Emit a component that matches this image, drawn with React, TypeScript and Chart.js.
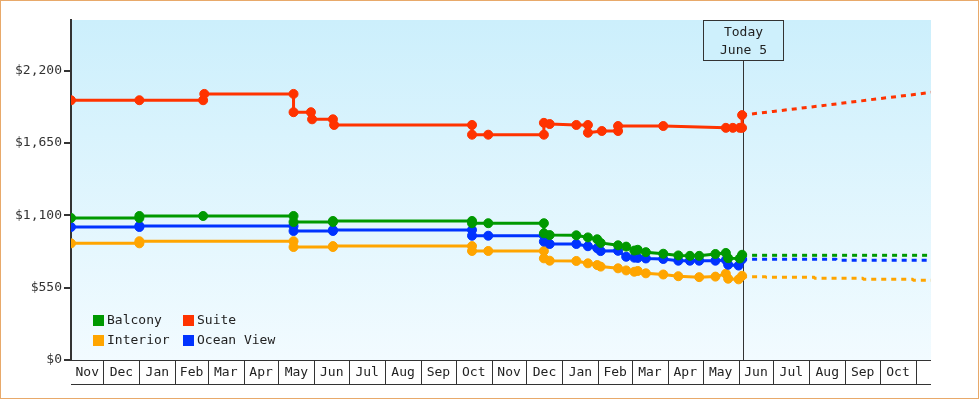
import React, { useEffect, useRef } from 'react';
import { Chart, registerables } from 'chart.js';

Chart.register(...registerables);

const FONT = '"DejaVu Sans Mono", "Liberation Mono", monospace';

// ---- axis / labels ----
const yTicks = [0, 550, 1100, 1650, 2200];
const yMax = 2585;
const startDate = '2022-11-03';
const endDate = '2024-11-14';
const todayDate = '2024-06-05';
const todayLabel = ['Today', 'June 5'];
const monthNames = ['Jan', 'Feb', 'Mar', 'Apr', 'May', 'Jun', 'Jul', 'Aug', 'Sep', 'Oct', 'Nov', 'Dec'];

const seriesNames = ['Balcony', 'Suite', 'Interior', 'Ocean View'];
const seriesColors = ['#009900', '#FF3300', '#FFA500', '#0033FF'];

// ---- price history [date, price] ----
const balcony: [string, number][] = [
  ['2022-11-03', 1080], ['2023-01-01', 1080], ['2023-01-01', 1095], ['2023-02-25', 1095],
  ['2023-05-14', 1095], ['2023-05-14', 1049], ['2023-06-17', 1049], ['2023-06-17', 1057],
  ['2023-10-15', 1057], ['2023-10-15', 1040], ['2023-10-29', 1040], ['2023-12-16', 1040],
  ['2023-12-16', 963], ['2023-12-21', 950], ['2024-01-13', 948], ['2024-01-23', 932],
  ['2024-01-31', 918], ['2024-02-03', 890], ['2024-02-18', 872], ['2024-02-25', 862],
  ['2024-03-03', 832], ['2024-03-06', 838], ['2024-03-13', 820], ['2024-03-28', 808],
  ['2024-04-10', 795], ['2024-04-20', 792], ['2024-04-28', 792], ['2024-05-12', 806],
  ['2024-05-21', 814], ['2024-05-23', 774], ['2024-06-02', 772], ['2024-06-04', 800],
];

const suite: [string, number][] = [
  ['2022-11-03', 1975], ['2023-01-01', 1975], ['2023-02-25', 1975], ['2023-02-26', 2023],
  ['2023-05-14', 2023], ['2023-05-14', 1884], ['2023-05-29', 1884], ['2023-05-30', 1830],
  ['2023-06-17', 1830], ['2023-06-18', 1787], ['2023-10-15', 1787], ['2023-10-15', 1713],
  ['2023-10-29', 1713], ['2023-12-16', 1713], ['2023-12-16', 1803], ['2023-12-21', 1794],
  ['2024-01-13', 1787], ['2024-01-23', 1787], ['2024-01-23', 1728], ['2024-02-04', 1741],
  ['2024-02-18', 1741], ['2024-02-18', 1779], ['2024-03-28', 1779], ['2024-05-21', 1765],
  ['2024-05-27', 1765], ['2024-06-02', 1765], ['2024-06-04', 1765], ['2024-06-04', 1862],
];

const interior: [string, number][] = [
  ['2022-11-03', 887], ['2023-01-01', 887], ['2023-01-01', 903], ['2023-05-14', 903],
  ['2023-05-14', 859], ['2023-06-17', 859], ['2023-06-17', 866], ['2023-10-15', 866],
  ['2023-10-15', 829], ['2023-10-29', 829], ['2023-12-16', 829], ['2023-12-16', 773],
  ['2023-12-21', 755], ['2024-01-13', 753], ['2024-01-23', 735], ['2024-01-31', 722],
  ['2024-02-03', 710], ['2024-02-18', 697], ['2024-02-25', 681], ['2024-03-03', 671],
  ['2024-03-06', 677], ['2024-03-13', 659], ['2024-03-28', 650], ['2024-04-10', 637],
  ['2024-04-28', 630], ['2024-05-12', 634], ['2024-05-21', 656], ['2024-05-23', 618],
  ['2024-06-01', 613], ['2024-06-04', 640],
];

const oceanView: [string, number][] = [
  ['2022-11-03', 1011], ['2023-01-01', 1011], ['2023-01-01', 1019], ['2023-05-14', 1019],
  ['2023-05-14', 981], ['2023-06-17', 981], ['2023-06-17', 989], ['2023-10-15', 989],
  ['2023-10-15', 945], ['2023-10-29', 945], ['2023-12-16', 945], ['2023-12-16', 900],
  ['2023-12-21', 882], ['2024-01-13', 882], ['2024-01-23', 865], ['2024-01-31', 850],
  ['2024-02-03', 828], ['2024-02-18', 830], ['2024-02-25', 785], ['2024-03-03', 778],
  ['2024-03-06', 776], ['2024-03-13', 772], ['2024-03-28', 768], ['2024-04-10', 755],
  ['2024-04-20', 755], ['2024-04-28', 755], ['2024-05-12', 755], ['2024-05-21', 760],
  ['2024-05-23', 724], ['2024-06-01', 718], ['2024-06-04', 766],
];

// ---- forecasts (dotted) ----
const balconyForecast: [string, number][] = [['2024-06-04', 796], ['2024-11-14', 796]];
const suiteForecast: [string, number][] = [
  ['2024-06-04', 1862], ['2024-07-01', 1890], ['2024-08-01', 1922], ['2024-09-01', 1955],
  ['2024-10-01', 1988], ['2024-11-01', 2020], ['2024-11-14', 2035],
];
const interiorForecast: [string, number][] = [
  ['2024-06-04', 633], ['2024-06-24', 633], ['2024-06-25', 629], ['2024-08-05', 629],
  ['2024-08-06', 621], ['2024-09-16', 621], ['2024-09-17', 614], ['2024-10-29', 614],
  ['2024-10-30', 606], ['2024-11-14', 606],
];
const oceanViewForecast: [string, number][] = [
  ['2024-06-04', 766], ['2024-08-24', 766], ['2024-08-25', 758], ['2024-11-14', 758],
];

const dayNum = (s: string) => {
  const [y, m, d] = s.split('-').map(Number);
  return Date.UTC(y, m - 1, d) / 86400000;
};
const toPts = (arr: [string, number][]) => arr.map(([d, v]) => ({ x: dayNum(d), y: v }));

const App = () => {
  const ref = useRef<HTMLCanvasElement>(null);

  useEffect(() => {
    if (!ref.current) return;
    const history = [balcony, suite, interior, oceanView];
    const forecasts = [balconyForecast, suiteForecast, interiorForecast, oceanViewForecast];
    const drawOrder = [0, 3, 2, 1];

    const datasets: any[] = [];
    drawOrder.forEach((i) => {
      datasets.push({
        label: seriesNames[i],
        data: toPts(history[i]),
        borderColor: seriesColors[i],
        backgroundColor: seriesColors[i],
        pointBackgroundColor: seriesColors[i],
        pointBorderColor: seriesColors[i],
        borderWidth: 3,
        pointRadius: 4.5,
        pointHoverRadius: 4.5,
        pointBorderWidth: 1,
        tension: 0,
        fill: false,
      });
    });
    drawOrder.forEach((i) => {
      datasets.push({
        label: seriesNames[i] + ' forecast',
        data: toPts(forecasts[i]),
        borderColor: seriesColors[i],
        borderWidth: 3,
        borderDash: [5, 5],
        borderCapStyle: 'butt',
        pointRadius: 0,
        pointHoverRadius: 0,
        tension: 0,
        fill: false,
      });
    });

    const decor = {
      id: 'decor',
      beforeDraw(chart: any) {
        const { ctx, chartArea: a } = chart;
        ctx.save();
        const g = ctx.createLinearGradient(0, a.top, 0, a.bottom);
        g.addColorStop(0, '#CCEFFC');
        g.addColorStop(1, '#F2FBFF');
        ctx.fillStyle = g;
        ctx.fillRect(a.left, a.top, a.right - a.left, a.bottom - a.top);
        ctx.restore();
      },
      beforeDatasetsDraw(chart: any) {
        const { ctx, chartArea: a, scales } = chart;
        const tx = Math.round(scales.x.getPixelForValue(dayNum(todayDate))) + 0.5;
        ctx.save();
        ctx.strokeStyle = '#333';
        ctx.lineWidth = 1;
        ctx.beginPath();
        ctx.moveTo(tx, a.top + 40);
        ctx.lineTo(tx, a.bottom);
        ctx.stroke();
        ctx.restore();
      },
      afterDraw(chart: any) {
        const { ctx, chartArea: a, scales } = chart;
        const xs = scales.x;
        ctx.save();
        // outer frame
        ctx.strokeStyle = '#E8A96A';
        ctx.lineWidth = 1;
        ctx.strokeRect(0.5, 0.5, 978, 398);

        // month band
        const bandTop = Math.round(a.bottom) + 0.5;
        const bandBot = bandTop + 24;
        ctx.strokeStyle = '#333';
        ctx.beginPath();
        ctx.moveTo(a.left, bandTop);
        ctx.lineTo(a.right, bandTop);
        ctx.moveTo(a.left, bandBot);
        ctx.lineTo(a.right, bandBot);
        ctx.stroke();

        const min = xs.min;
        const max = xs.max;
        const s = new Date(min * 86400000);
        let y = s.getUTCFullYear();
        let m = s.getUTCMonth();
        ctx.font = `13px ${FONT}`;
        ctx.fillStyle = '#222';
        ctx.textAlign = 'center';
        ctx.textBaseline = 'middle';
        let segStart = min;
        let segMonth = m;
        while (true) {
          m += 1;
          if (m > 11) { m = 0; y += 1; }
          const next = Date.UTC(y, m, 1) / 86400000;
          const segEnd = Math.min(next, max);
          const x0 = xs.getPixelForValue(segStart);
          const x1 = xs.getPixelForValue(segEnd);
          if (x1 - x0 > 25) {
            ctx.fillText(monthNames[segMonth], (x0 + x1) / 2, bandTop + 12.5);
          }
          if (next >= max) break;
          const bx = Math.round(x1) + 0.5;
          ctx.beginPath();
          ctx.moveTo(bx, bandTop);
          ctx.lineTo(bx, bandBot);
          ctx.stroke();
          segStart = next;
          segMonth = m;
        }

        // today box
        const tx = Math.round(xs.getPixelForValue(dayNum(todayDate))) + 0.5;
        const bx0 = tx - 40;
        const by0 = Math.round(a.top) + 0.5;
        ctx.fillStyle = '#CEF0FC';
        ctx.fillRect(bx0, by0, 80, 40);
        ctx.strokeStyle = '#333';
        ctx.strokeRect(bx0, by0, 80, 40);
        ctx.fillStyle = '#222';
        ctx.fillText(todayLabel[0], tx, by0 + 12);
        ctx.fillText(todayLabel[1], tx, by0 + 30);

        // legend
        ctx.textAlign = 'left';
        const lx = [a.left + 22, a.left + 112];
        const ly = [a.bottom - 45, a.bottom - 25];
        seriesNames.forEach((name, i) => {
          const col = i % 2;
          const row = Math.floor(i / 2);
          ctx.fillStyle = seriesColors[i];
          ctx.fillRect(lx[col], ly[row], 11, 11);
          ctx.fillStyle = '#222';
          ctx.fillText(name, lx[col] + 14, ly[row] + 6);
        });
        ctx.restore();
      },
    };

    const chart = new Chart(ref.current, {
      type: 'line',
      data: { datasets },
      options: {
        responsive: false,
        animation: false,
        devicePixelRatio: 1,
        events: [],
        layout: { padding: { top: 20, right: 49, bottom: 40, left: 0 } },
        plugins: { legend: { display: false }, tooltip: { enabled: false } },
        scales: {
          x: {
            type: 'linear',
            display: false,
            min: dayNum(startDate),
            max: dayNum(endDate),
          },
          y: {
            min: 0,
            max: yMax,
            afterBuildTicks: (s: any) => {
              s.ticks = yTicks.map((v) => ({ value: v }));
            },
            afterFit: (s: any) => {
              s.width = 71;
            },
            grid: { drawOnChartArea: false, drawTicks: true, tickLength: 7, color: '#333', lineWidth: 2 },
            border: { display: true, color: '#333', width: 2 },
            ticks: {
              padding: 2,
              color: '#333',
              font: { family: FONT, size: 13 },
              callback: (v: any) => '$' + Number(v).toLocaleString('en-US'),
            },
          },
        },
      },
      plugins: [decor],
    } as any);
    return () => chart.destroy();
  }, []);

  return (
    <div style={{ position: 'fixed', left: 0, top: 0, width: 980, height: 400, background: '#fff' }}>
      <canvas ref={ref} width={980} height={400} style={{ display: 'block', width: 980, height: 400 }} />
    </div>
  );
};

export default App;
